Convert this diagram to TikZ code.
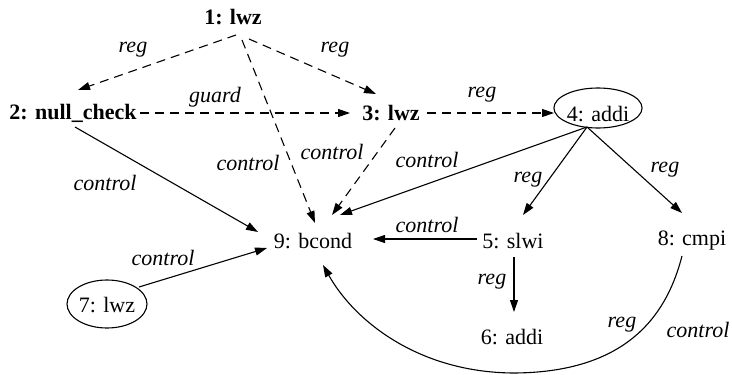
\documentclass[tikz,border=0pt]{standalone}
\usepackage{fontspec}
\setmainfont{Liberation Serif}
\usetikzlibrary{arrows.meta,shapes.geometric}
\begin{document}
\begin{tikzpicture}[x=1pt,y=-1pt,
  every node/.style={font=\fontsize{22}{26}\selectfont, inner sep=0pt},
  opb/.style={font=\fontsize{22}{26}\selectfont\bfseries},
  oval/.style={draw, ellipse, line width=1.1pt},
  lbl/.style={font=\fontsize{22}{26}\selectfont\itshape},
  edge/.style={line width=1.1pt, -{Triangle[length=12pt,width=8pt]}},
  dep/.style={edge, dash pattern=on 9pt off 6pt},
]
\useasboundingbox (0,0) rectangle (732,375);

% instructions
\node[opb] (n1) at (233,17) {1: lwz};
\node[opb] (n2) at (73,113) {2: null\_check};
\node[opb] (n3) at (391,113) {3: lwz};
\node[oval, minimum width=86pt, minimum height=40pt, text height=26pt, text depth=0pt] (n4) at (598,108) {4: addi};
\node (n5) at (513,241) {5: slwi};
\node (n6) at (512,337) {6: addi};
\node[oval, minimum width=80pt, minimum height=48pt, text height=16pt, text depth=0pt] (n7) at (107,304) {7: lwz};
\node (n8) at (692,241) {8: cmpi};
\node (n9) at (313,241) {9: bcond};

% dashed dependences
\draw[dep] ([shift={(3,18)}]n1.center) -- ([shift={(5,-23)}]n2.center);
\draw[dep] ([shift={(16,22)}]n1.center) -- ([shift={(-15,-19)}]n3.center);
\draw[dep] ([shift={(9,23)}]n1.center) -- ([shift={(2,-18)}]n9.center);
\draw[dep] ([shift={(67,0)}]n2.center) -- ([shift={(-41,0)}]n3.center);
\draw[dep] ([shift={(36,0)}]n3.center) -- ([shift={(-44,5)}]n4.center);
\draw[dep] ([shift={(4,15)}]n3.center) -- ([shift={(19,-26)}]n9.center);

% solid dependences
\draw[edge] ([shift={(2,14)}]n2.center) -- ([shift={(-55,-9)}]n9.center);
\draw[edge] ([shift={(-11,19)}]n4.center) -- ([shift={(27,-26)}]n9.center);
\draw[edge] ([shift={(-11,19)}]n4.center) -- ([shift={(10,-26)}]n5.center);
\draw[edge] ([shift={(-11,19)}]n4.center) -- ([shift={(-10,-28)}]n8.center);
\draw[edge] ([shift={(-36,-2)}]n5.center) -- ([shift={(60,-2)}]n9.center);
\draw[edge] ([shift={(1,16)}]n5.center) -- ([shift={(2,-25)}]n6.center);
\draw[edge] ([shift={(32,-17)}]n7.center) -- ([shift={(-46,7)}]n9.center);
\draw[edge] ([shift={(-10,15)}]n8.center)
  .. controls (668,310) and (632,372) .. (515,373)
  .. controls (420,373) and (355,322) .. ([shift={(10,24)}]n9.center);

% edge labels
\node[lbl] (l12) at (133,50) {reg};
\node[lbl] (l13) at (335,50) {reg};
\node[lbl] (l23) at (215,97) {guard};
\node[lbl] (l34) at (482,95) {reg};
\node[lbl] (l19) at (248,163) {control};
\node[lbl] (l39) at (332,152) {control};
\node[lbl] (l29) at (105,183) {control};
\node[lbl] (l49) at (427,160) {control};
\node[lbl] (l45) at (528,180) {reg};
\node[lbl] (l48) at (665,170) {reg};
\node[lbl] (l59) at (427,225) {control};
\node[lbl] (l79) at (163,258) {control};
\node[lbl] (l56) at (492,282) {reg};
\node[lbl] (l86) at (622,325) {reg};
\node[lbl] (l89) at (698,330) {control};
\end{tikzpicture}
\end{document}
